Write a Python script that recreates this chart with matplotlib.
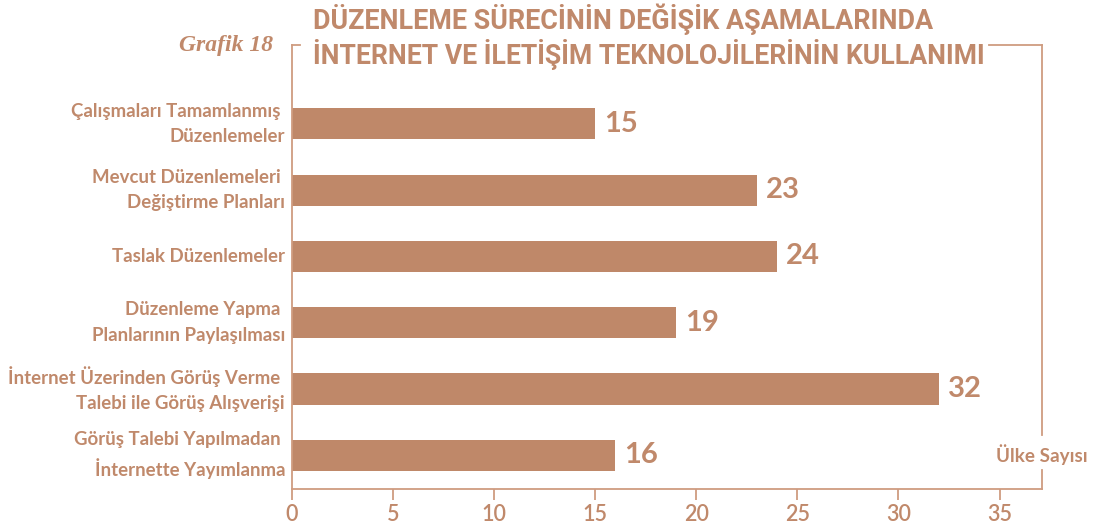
import matplotlib
matplotlib.use("Agg")
import matplotlib.pyplot as plt
from matplotlib.lines import Line2D

categories = [
    "Çalışmaları Tamamlanmış \nDüzenlemeler",
    "Mevcut Düzenlemeleri \nDeğiştirme Planları",
    "Taslak Düzenlemeler",
    "Düzenleme Yapma \nPlanlarının Paylaşılması",
    "İnternet Üzerinden Görüş Verme \nTalebi ile Görüş Alışverişi",
    "Görüş Talebi Yapılmadan \nİnternette Yayımlanma",
]
values = [15, 23, 24, 19, 32, 16]
xticks = [0, 5, 10, 15, 20, 25, 30, 35]
title_lines = ["DÜZENLEME SÜRECİNİN DEĞİŞİK AŞAMALARINDA",
               "İNTERNET VE İLETİŞİM TEKNOLOJİLERİNİN KULLANIMI"]
grafik_label = "Grafik 18"
x_label = "Ülke Sayısı"

BAR = "#BF8869"
TXT = "#C0896B"
LINE = "#CF9C80"

plt.rcParams['font.family'] = ['Lato', 'DejaVu Sans']

fig = plt.figure(figsize=(11, 5.3), dpi=100)
ax = fig.add_axes([292/1100, 1-489/530, (1042-292)/1100, (489-45)/530])

ypos = list(range(len(categories)))
ax.barh(ypos, values, height=0.47, color=BAR)
ax.set_ylim(5.51, -1.19)
ax.set_xlim(0, 37.1)

for y, v in zip(ypos, values):
    ax.text(v + 0.45, y, str(v), va='center', ha='left', fontsize=21,
            fontweight='bold', color=TXT)

ax.set_yticks(ypos)
ax.set_yticklabels(categories, fontsize=13.4, fontweight='bold', color=TXT,
                   linespacing=1.6)
ax.tick_params(axis='y', length=0, pad=5)
ax.set_xticks(xticks)
ax.set_xticklabels([str(t) for t in xticks], fontsize=15.5, color=TXT,
                   fontweight='semibold')
ax.tick_params(axis='x', length=8, width=1.3, color=LINE, pad=3)
for lab in ax.get_yticklabels():
    lab.set_horizontalalignment('right')
    lab.set_verticalalignment('center')

for s in ['top', 'right']:
    ax.spines[s].set_visible(False)
for s in ['left', 'bottom']:
    ax.spines[s].set_color(LINE)
    ax.spines[s].set_linewidth(1.3)

# decorative frame pieces
def aline(x0, y0, x1, y1):
    ax.add_line(Line2D([x0, x1], [y0, y1], transform=ax.transAxes,
                       color=LINE, lw=1.3, clip_on=False))

aline(0, 1, 8/750, 1)
aline((989-292)/750, 1, 1, 1)
aline(1, 1, 1, (489-435)/444)
aline(1, (489-470)/444, 1, 0)

ax.text(1, (489-455)/444, x_label, transform=ax.transAxes, ha='center',
        va='center', fontsize=13.6, fontweight='bold', color=TXT)

fig.text(313/1100, 1-19/530, title_lines[0], ha='left', va='center',
         fontsize=19.4, fontweight='bold', color=TXT, family=['Roboto', 'DejaVu Sans'])
fig.text(313/1100, 1-54/530, title_lines[1], ha='left', va='center',
         fontsize=19.2, fontweight='bold', color=TXT, family=['Roboto', 'DejaVu Sans'])
fig.text(273/1100, 1-45/530, grafik_label, ha='right', va='center',
         fontsize=17, fontstyle='italic', fontweight='bold', color=TXT,
         family=['Liberation Serif'])

fig.savefig("out.png", dpi=100)
